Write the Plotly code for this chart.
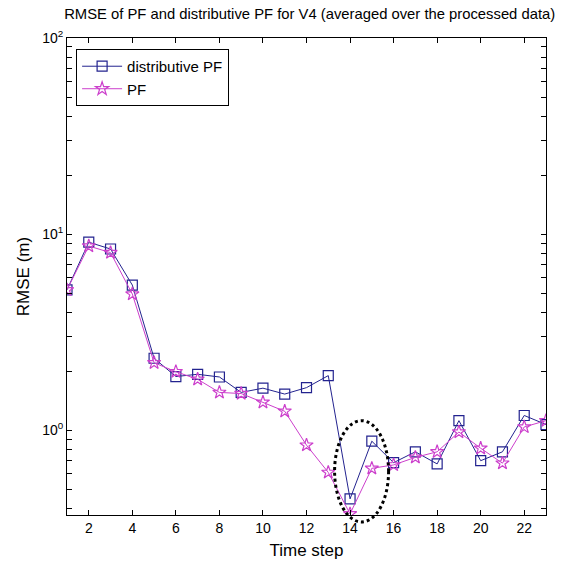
import math
import plotly.graph_objects as go

# RMSE per time step (metres)
time_step = list(range(1, 24))
rmse_distributive_pf = [5.2, 9.1, 8.4, 5.5, 2.33, 1.88, 1.93, 1.87, 1.56, 1.64, 1.53,
                        1.65, 1.90, 0.447, 0.88, 0.684, 0.777, 0.674, 1.12, 0.70,
                        0.777, 1.19, 1.07]
rmse_pf = [5.2, 8.7, 8.05, 4.95, 2.21, 1.99, 1.82, 1.56, 1.54, 1.39, 1.25,
           0.84, 0.61, 0.375, 0.64, 0.666, 0.728, 0.777, 0.98, 0.81,
           0.68, 1.04, 1.12]

x_ticks = list(range(2, 23, 2))
y_min, y_max = 0.37, 100.0

# highlighted region around steps 14-15 (data units)
highlight_x = (13.29, 15.77)
highlight_y = (0.341, 1.12)

FONT = "Liberation Sans, Arial, sans-serif"
BLUE = "#23238f"
MAGENTA = "#cc3fcc"

# log-axis ticks: labelled decades, unlabelled intermediate digits
y_major, y_major_text, y_minor = [], [], []
for e in range(-1, 3):
    for d in range(1, 10):
        v = d * 10 ** e
        if y_min <= v <= y_max + 1e-9:
            if d == 1:
                y_major.append(v)
                y_major_text.append(f"10<sup>{e}</sup>")
            else:
                y_minor.append(v)

fig = go.Figure()
fig.add_trace(go.Scatter(
    x=time_step, y=rmse_distributive_pf, name="distributive PF",
    mode="lines+markers",
    line=dict(color=BLUE, width=1),
    marker=dict(symbol="square-open", size=10, color=BLUE, line=dict(width=1.2)),
))
fig.add_trace(go.Scatter(
    x=time_step, y=rmse_pf, name="PF",
    mode="lines+markers",
    line=dict(color=MAGENTA, width=1),
    marker=dict(symbol="star-open", size=10, color=MAGENTA, line=dict(width=1.2)),
))

x_lo, x_hi = 1, 23
ly_lo, ly_hi = math.log10(y_min), math.log10(y_max)


def px(v):
    return (v - x_lo) / (x_hi - x_lo)


def py(v):
    return (math.log10(v) - ly_lo) / (ly_hi - ly_lo)


fig.add_shape(
    type="circle", xref="paper", yref="paper",
    x0=px(highlight_x[0]), x1=px(highlight_x[1]),
    y0=py(highlight_y[0]), y1=py(highlight_y[1]),
    line=dict(color="black", width=3, dash="dot"),
    layer="above",
)

fig.update_layout(
    width=561, height=570,
    margin=dict(l=67, r=14.5, t=37.5, b=55),
    paper_bgcolor="white", plot_bgcolor="white",
    font=dict(family=FONT, size=14, color="black"),
    title=dict(
        text="RMSE of PF and distributive PF for V4 (averaged over the processed data)",
        x=0.552, xanchor="center", y=0.975, yanchor="middle",
        font=dict(family=FONT, size=14.8, color="black"),
    ),
    showlegend=True,
    legend=dict(
        x=0.019, y=0.977, xanchor="left", yanchor="top",
        bgcolor="white", bordercolor="black", borderwidth=1,
        font=dict(family=FONT, size=15, color="black"),
        tracegroupgap=0, itemwidth=40,
    ),
    xaxis=dict(
        range=[x_lo, x_hi], tickvals=x_ticks,
        ticks="inside", ticklen=5, tickcolor="black",
        showline=True, linecolor="black", linewidth=1, mirror="allticks",
        showgrid=False, zeroline=False,
        title=dict(text="Time step", standoff=9),
    ),
    yaxis=dict(
        type="log", range=[ly_lo, ly_hi],
        tickvals=y_major, ticktext=y_major_text,
        ticks="inside", ticklen=5, tickcolor="black",
        minor=dict(tickvals=y_minor, ticks="inside", ticklen=5,
                   tickcolor="black", showgrid=False),
        showline=True, linecolor="black", linewidth=1, mirror="allticks",
        showgrid=False, zeroline=False,
        title=dict(text="RMSE (m)", standoff=8),
    ),
)

fig.write_html("out.html")
